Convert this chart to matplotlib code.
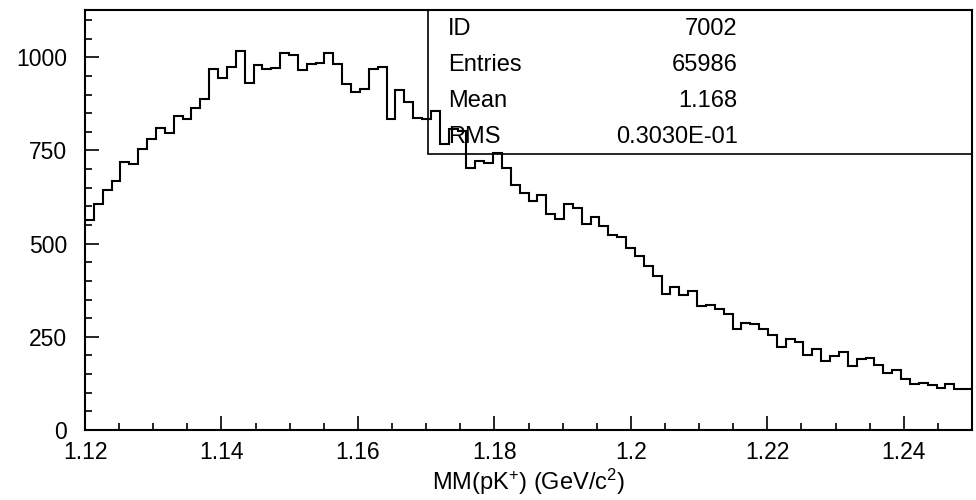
import matplotlib.pyplot as plt
import numpy as np
from matplotlib.patches import Rectangle
from matplotlib.ticker import MultipleLocator

plt.rcParams['font.family'] = ['Liberation Sans', 'DejaVu Sans']
plt.rcParams['mathtext.default'] = 'regular'

# histogram 7002: missing mass MM(pK+), 100 bins from 1.12 to 1.25
x_lo, x_hi, n_bins = 1.12, 1.25, 100
counts = [
    564, 607, 644, 668, 719, 714, 754, 781, 810, 797,
    842, 835, 865, 888, 969, 945, 975, 1017, 930, 979,
    970, 972, 1012, 1006, 966, 982, 986, 1011, 981, 929,
    907, 915, 970, 975, 835, 912, 880, 838, 835, 857,
    767, 809, 801, 702, 723, 717, 742, 704, 657, 637,
    615, 631, 579, 566, 607, 597, 553, 572, 547, 523,
    518, 489, 467, 441, 412, 365, 383, 363, 372, 333,
    335, 324, 311, 270, 288, 284, 272, 255, 222, 243,
    237, 202, 217, 184, 199, 208, 173, 191, 193, 174,
    152, 161, 136, 123, 125, 120, 114, 123, 111, 109,
]

stat_names = ['ID', 'Entries', 'Mean', 'RMS']
stat_values = ['7002', '65986', '1.168', '0.3030E-01']

edges = np.linspace(x_lo, x_hi, n_bins + 1)

fig = plt.figure(figsize=(9.76, 5.0), dpi=100)
ax = fig.add_axes([0.0871, 0.14, 0.9088, 0.84])

ax.stairs(counts, edges, baseline=None, color='black', linewidth=1.5)

ax.set_xlim(x_lo, x_hi)
ax.set_ylim(0, 1127)

ax.xaxis.set_minor_locator(MultipleLocator(0.005))
ax.yaxis.set_major_locator(MultipleLocator(250))
ax.yaxis.set_minor_locator(MultipleLocator(50))
ax.set_xticks([1.12, 1.14, 1.16, 1.18, 1.20, 1.22, 1.24])
ax.set_xticklabels(['1.12', '1.14', '1.16', '1.18', '1.2', '1.22', '1.24'])

ax.tick_params(which='both', direction='in', top=False, right=False,
               labelsize=16.5, width=1.2)
ax.tick_params(which='major', length=10)
ax.tick_params(which='minor', length=5)
ax.tick_params(axis='y', pad=13)
ax.tick_params(axis='x', pad=8)

for s in ax.spines.values():
    s.set_linewidth(1.5)

ax.set_xlabel('MM(pK$^{+}$) (GeV/c$^{2}$)', fontsize=17, labelpad=2)

# statistics box in the upper right corner
ax.add_patch(Rectangle((0.3864, 0.657), 0.6136, 0.343, transform=ax.transAxes,
                       fill=False, edgecolor='black', linewidth=1.2,
                       clip_on=False))
rows_y = [0.9548, 0.869, 0.783, 0.6976]
for name, val, y in zip(stat_names, stat_values, rows_y):
    ax.text(0.409, y, name, transform=ax.transAxes, fontsize=17,
            ha='left', va='center')
    ax.text(0.7357, y, val, transform=ax.transAxes, fontsize=17,
            ha='right', va='center')

fig.savefig('out.png', dpi=100)
